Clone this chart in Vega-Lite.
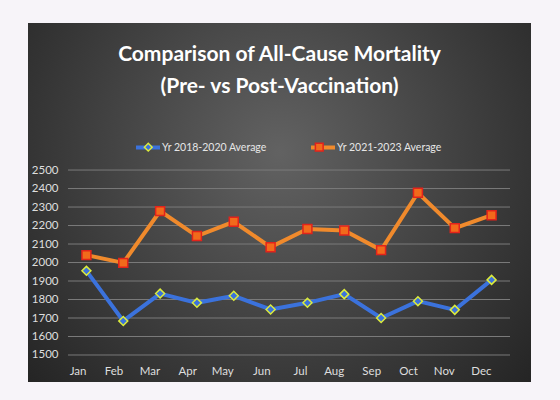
{
  "$schema": "https://vega.github.io/schema/vega-lite/v6.json",
  "description": "All-cause mortality by month, 2018-2020 average vs 2021-2023 average",
  "width": 503,
  "height": 359,
  "autosize": "none",
  "padding": {"left": 28, "top": 23, "right": 29, "bottom": 18},
  "background": "#f7f4f9",
  "config": {
    "font": "Lato",
    "view": {
      "stroke": null,
      "fill": {"expr": "{gradient: 'radial', x1: 0.5, y1: 0.4, r1: 0, x2: 0.5, y2: 0.4, r2: 0.75, stops: [{offset: 0, color: '#626262'}, {offset: 0.55, color: '#3c3c3c'}, {offset: 1, color: '#1e1e1e'}]}"}
    }
  },
  "title": {
    "text": ["Comparison of All-Cause Mortality", "(Pre- vs Post-Vaccination)"],
    "color": "white",
    "font": "Lato",
    "fontSize": 21,
    "fontWeight": "bold",
    "lineHeight": 32,
    "anchor": "middle",
    "frame": "group",
    "offset": -74
  },
  "datasets": {
    "mortality": [
      {"month": "Jan", "series": "Yr 2018-2020 Average", "value": 1955},
      {"month": "Feb", "series": "Yr 2018-2020 Average", "value": 1684},
      {"month": "Mar", "series": "Yr 2018-2020 Average", "value": 1832},
      {"month": "Apr", "series": "Yr 2018-2020 Average", "value": 1782},
      {"month": "May", "series": "Yr 2018-2020 Average", "value": 1820},
      {"month": "Jun", "series": "Yr 2018-2020 Average", "value": 1746},
      {"month": "Jul", "series": "Yr 2018-2020 Average", "value": 1782},
      {"month": "Aug", "series": "Yr 2018-2020 Average", "value": 1829},
      {"month": "Sep", "series": "Yr 2018-2020 Average", "value": 1700},
      {"month": "Oct", "series": "Yr 2018-2020 Average", "value": 1791},
      {"month": "Nov", "series": "Yr 2018-2020 Average", "value": 1744},
      {"month": "Dec", "series": "Yr 2018-2020 Average", "value": 1906},
      {"month": "Jan", "series": "Yr 2021-2023 Average", "value": 2040},
      {"month": "Feb", "series": "Yr 2021-2023 Average", "value": 1998},
      {"month": "Mar", "series": "Yr 2021-2023 Average", "value": 2278},
      {"month": "Apr", "series": "Yr 2021-2023 Average", "value": 2143},
      {"month": "May", "series": "Yr 2021-2023 Average", "value": 2220},
      {"month": "Jun", "series": "Yr 2021-2023 Average", "value": 2083},
      {"month": "Jul", "series": "Yr 2021-2023 Average", "value": 2181},
      {"month": "Aug", "series": "Yr 2021-2023 Average", "value": 2173},
      {"month": "Sep", "series": "Yr 2021-2023 Average", "value": 2067},
      {"month": "Oct", "series": "Yr 2021-2023 Average", "value": 2377},
      {"month": "Nov", "series": "Yr 2021-2023 Average", "value": 2186},
      {"month": "Dec", "series": "Yr 2021-2023 Average", "value": 2256}
    ],
    "gridlines": [
      {"value": 1500}, {"value": 1600}, {"value": 1700}, {"value": 1800}, {"value": 1900}, {"value": 2000},
      {"value": 2100}, {"value": 2200}, {"value": 2300}, {"value": 2400}, {"value": 2500}
    ]
  },
  "encoding": {
    "y": {
      "field": "value",
      "type": "quantitative",
      "scale": {"domain": [1354, 3295], "nice": false, "zero": false},
      "axis": {
        "values": [1500, 1600, 1700, 1800, 1900, 2000, 2100, 2200, 2300, 2400, 2500],
        "format": "d",
        "labelOverlap": false,
        "title": null,
        "grid": false,
        "domain": false,
        "ticks": false,
        "offset": -33,
        "labelPadding": 3,
        "labelColor": "#dedede",
        "labelFontSize": 11.5,
        "labelFont": "Lato"
      }
    }
  },
  "layer": [
    {
      "data": {"name": "gridlines"},
      "mark": {"type": "rule", "color": "#7a7a7a", "strokeWidth": 1},
      "encoding": {
        "x": {"datum": "Jan", "type": "nominal", "bandPosition": 0},
        "x2": {"datum": "Dec", "bandPosition": 1}
      }
    },
    {
      "data": {"name": "mortality"},
      "mark": {"type": "line", "strokeWidth": 4},
      "encoding": {
        "x": {
          "field": "month",
          "type": "nominal",
          "scale": {
            "type": "band",
            "domain": ["Jan", "Feb", "Mar", "Apr", "May", "Jun", "Jul", "Aug", "Sep", "Oct", "Nov", "Dec"],
            "paddingInner": 0,
            "paddingOuter": 0.828,
            "align": 0.656
          },
          "axis": {
            "title": null,
            "labelAngle": 0,
            "grid": false,
            "domain": false,
            "ticks": false,
            "offset": -15,
            "labelPadding": 4,
            "labelColor": "#dedede",
            "labelFontSize": 11.5,
            "labelFont": "Lato"
          }
        },
        "color": {
          "field": "series",
          "type": "nominal",
          "scale": {"range": ["#3b72dc", "#f08a2c"]},
          "legend": {
            "title": null,
            "orient": "none",
            "legendX": 106,
            "legendY": 110.5,
            "padding": 0,
            "direction": "horizontal",
            "symbolType": "stroke",
            "symbolSize": 576,
            "symbolStrokeWidth": 4,
            "symbolOffset": 0,
            "labelOffset": 0,
            "columnPadding": 36,
            "labelColor": "#e6e6e6",
            "labelFontSize": 10.5,
            "labelFont": "Lato",
            "zindex": 0
          }
        }
      }
    },
    {
      "data": {"name": "mortality"},
      "mark": {"type": "point", "filled": true, "opacity": 1, "size": 80, "strokeWidth": 1.5},
      "encoding": {
        "x": {"field": "month", "type": "nominal"},
        "shape": {
          "field": "series",
          "type": "nominal",
          "scale": {"domain": ["Yr 2018-2020 Average", "Yr 2021-2023 Average"], "range": ["diamond", "square"]},
          "legend": {
            "title": null,
            "orient": "none",
            "legendX": 106,
            "legendY": 118.5,
            "padding": 0,
            "direction": "horizontal",
            "symbolSize": 60,
            "symbolStrokeWidth": 1.5,
            "symbolOpacity": 1,
            "symbolOffset": 9,
            "labelOffset": 9,
            "labelExpr": "''",
            "columnPadding": 142,
            "labelFontSize": 10.5,
            "labelFont": "Lato",
            "zindex": 1
          }
        },
        "fill": {
          "field": "series",
          "type": "nominal",
          "scale": {"domain": ["Yr 2018-2020 Average", "Yr 2021-2023 Average"], "range": ["#3b72dc", "#f26a1b"]},
          "legend": {
            "title": null,
            "orient": "none",
            "legendX": 106,
            "legendY": 118.5,
            "padding": 0,
            "direction": "horizontal",
            "symbolSize": 60,
            "symbolStrokeWidth": 1.5,
            "symbolOpacity": 1,
            "symbolOffset": 9,
            "labelOffset": 9,
            "labelExpr": "''",
            "columnPadding": 142,
            "labelFontSize": 10.5,
            "labelFont": "Lato",
            "zindex": 1
          }
        },
        "stroke": {
          "field": "series",
          "type": "nominal",
          "scale": {"domain": ["Yr 2018-2020 Average", "Yr 2021-2023 Average"], "range": ["#dcec3c", "#e3231b"]},
          "legend": {
            "title": null,
            "orient": "none",
            "legendX": 106,
            "legendY": 118.5,
            "padding": 0,
            "direction": "horizontal",
            "symbolSize": 60,
            "symbolStrokeWidth": 1.5,
            "symbolOpacity": 1,
            "symbolOffset": 9,
            "labelOffset": 9,
            "labelExpr": "''",
            "columnPadding": 142,
            "labelFontSize": 10.5,
            "labelFont": "Lato",
            "zindex": 1
          }
        }
      }
    }
  ]
}
